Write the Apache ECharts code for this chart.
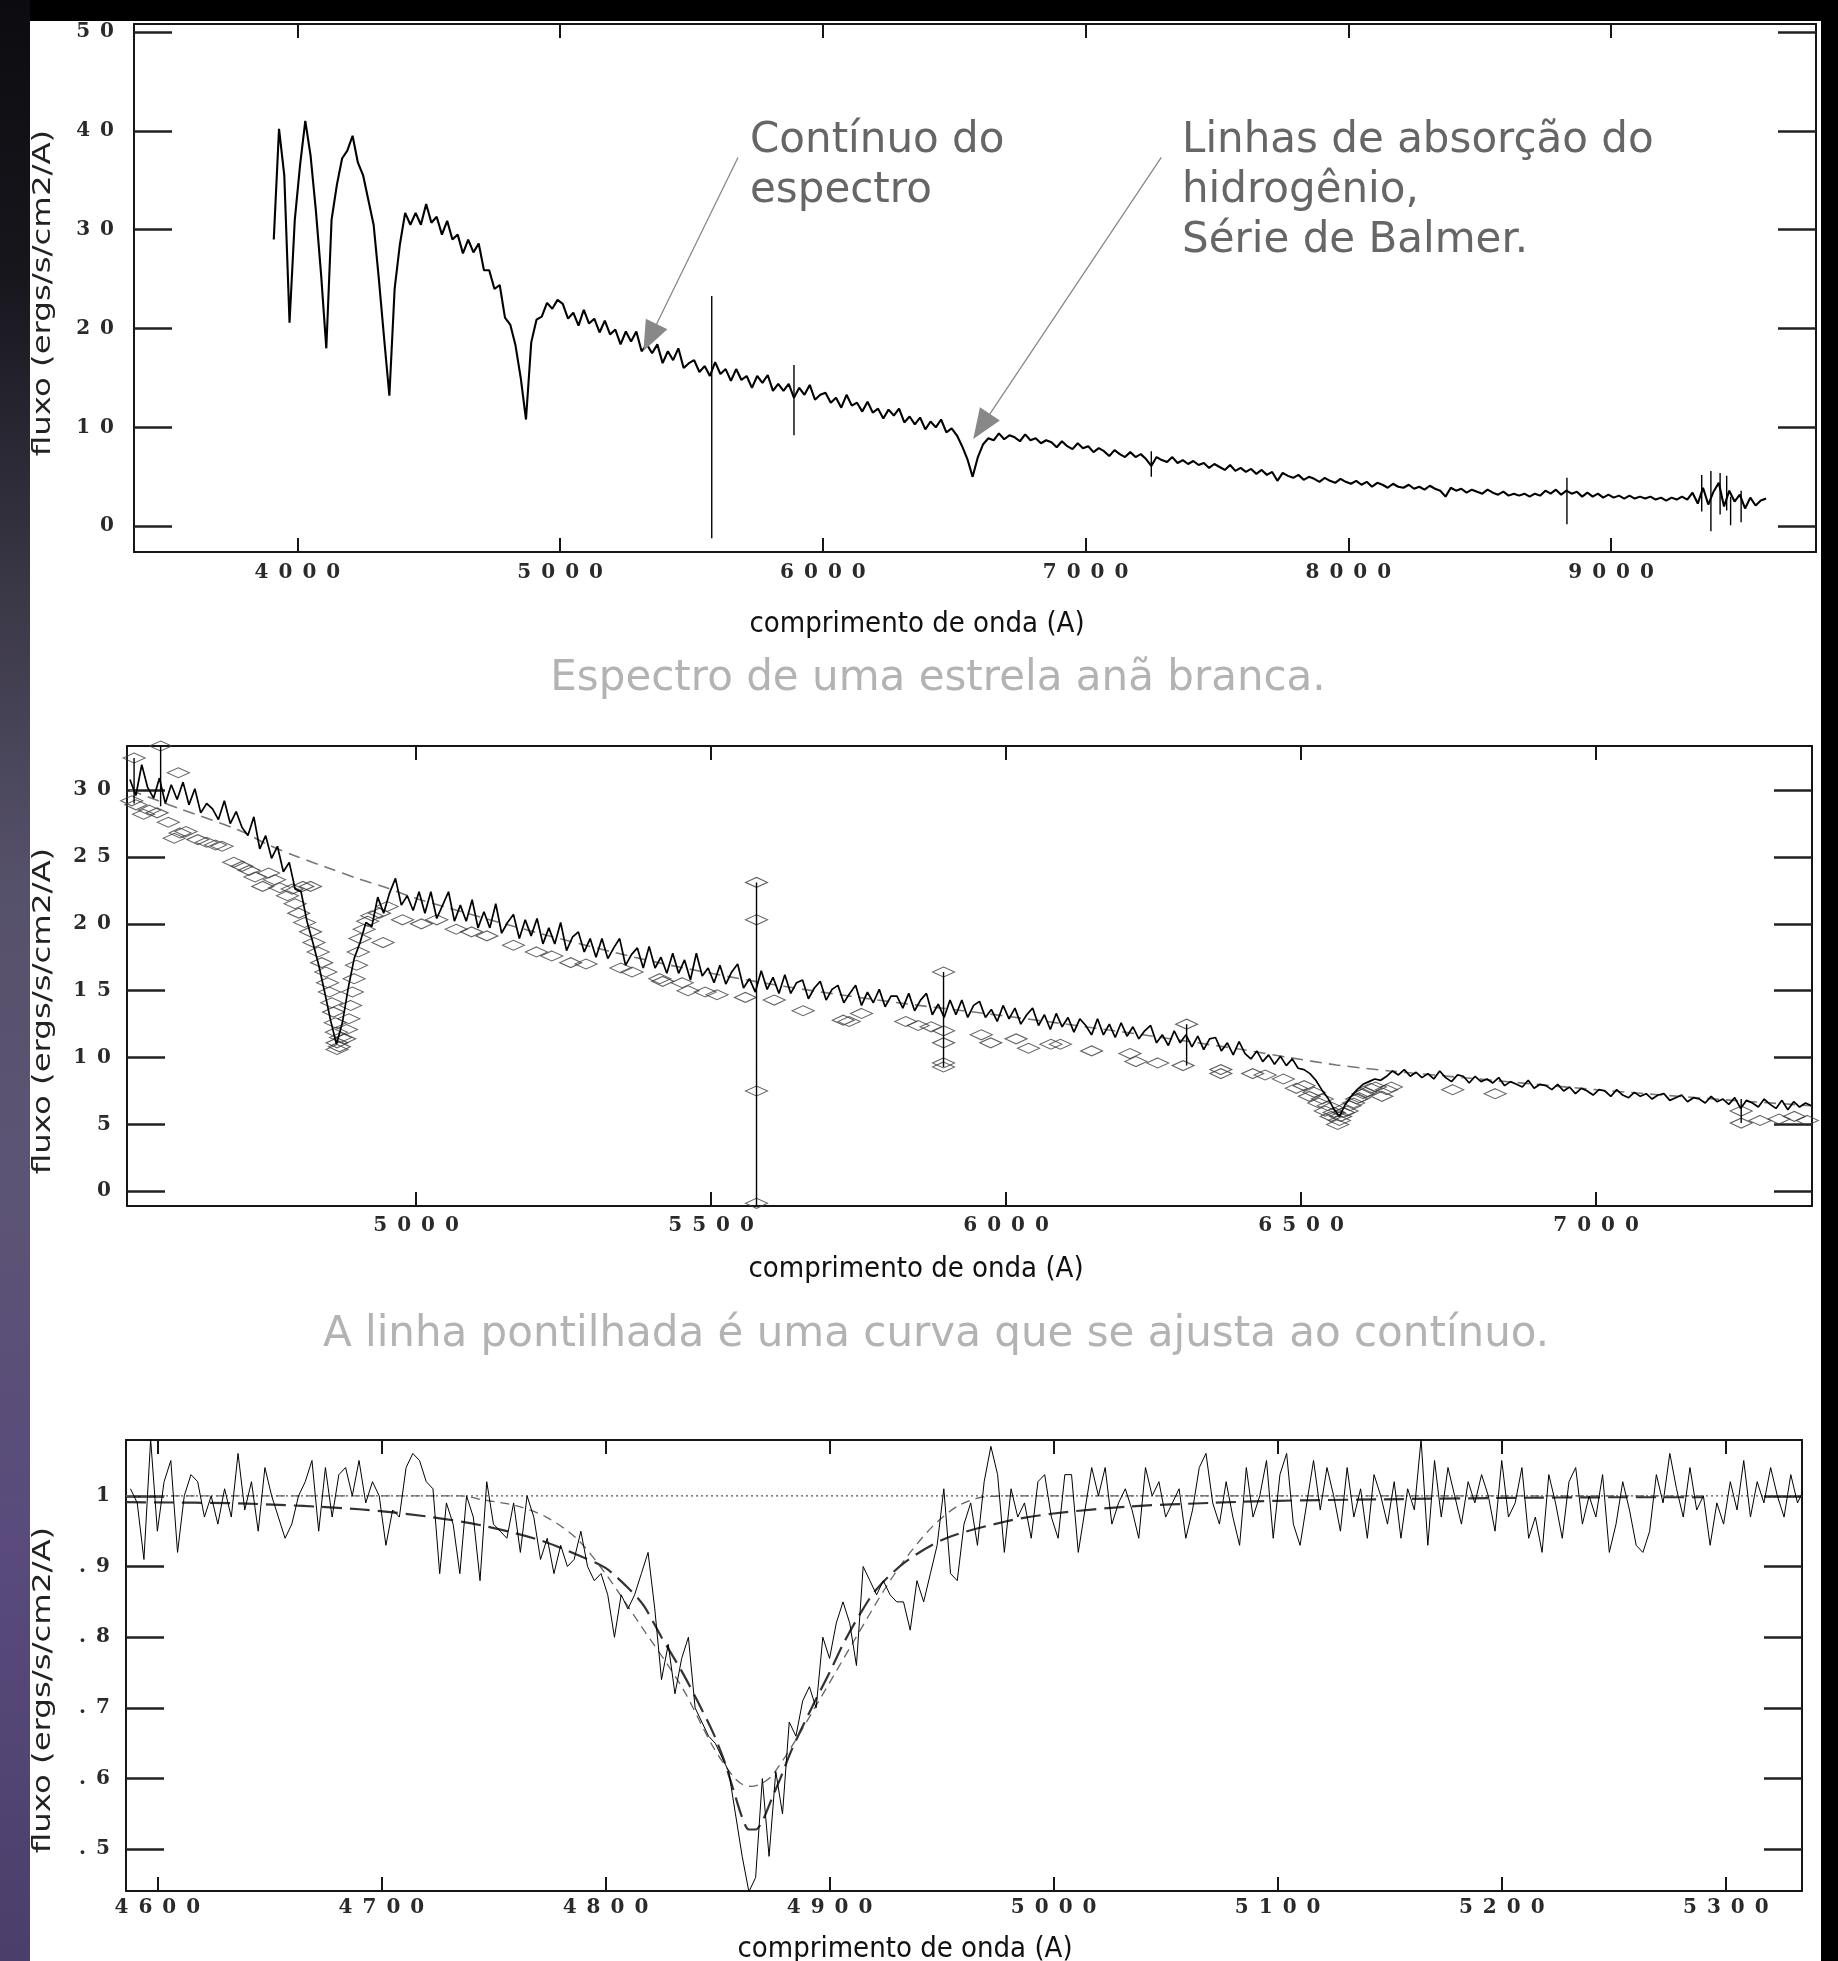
<!DOCTYPE html>
<html>
<head>
<meta charset="utf-8">
<title>Espectro de uma estrela anã branca</title>
<script src="https://cdn.jsdelivr.net/npm/echarts@6/dist/echarts.min.js"></script>
<style>
  html, body { margin: 0; padding: 0; background: #000; }
  #strip {
    position: absolute; left: 0; top: 0; width: 30px; height: 1961px;
    background: linear-gradient(180deg, #0c0c10 0%, #17161d 14%, #3a3746 30%, #56516a 45%, #5c5474 60%, #594a7c 80%, #4b3e6a 100%);
  }
  #paper { position: absolute; left: 30px; top: 21px; width: 1791px; height: 1940px; background: #fff; }
  #chart { position: absolute; left: 0; top: 0; width: 1838px; height: 1961px; }
</style>
</head>
<body>
<div id="strip"></div>
<div id="paper"></div>
<div id="chart"></div>
<script>
// ---- panel 1: full spectrum (sampled every 20 A from 3910 A)
const p1Start = 3910;
const p1Step = 20;
const p1Flux = [
  29.0, 40.2, 35.5, 20.6, 31.0, 36.5, 41.0, 37.5, 32.0, 25.5, 18.0, 31.0, 34.5, 37.2, 38.0, 39.5, 36.8, 35.5, 33.0, 30.5, 25.0, 19.0, 13.2, 24.0, 28.5,
  31.7, 30.5, 31.7, 30.5, 32.6, 30.7, 31.3, 29.5, 30.9, 29.0, 29.5, 27.6, 29.0, 27.7, 28.6, 25.9, 25.9, 24.0, 24.4, 21.1,
  20.4, 18.3, 15.0, 10.8, 18.6, 20.9, 21.2, 22.6, 22.0, 22.9,
  22.5, 21.0, 21.6, 20.3, 21.9, 20.5, 21.0, 19.6, 20.8, 19.4,
  19.9, 18.4, 19.7, 18.7, 19.7, 17.7, 18.4, 17.5, 18.4, 16.5,
  17.7, 16.8, 18.0, 16.0, 16.5, 16.8, 15.6, 16.2, 15.2, 16.6,
  15.4, 15.9, 14.7, 15.9, 14.8, 15.2, 14.0, 15.2, 14.5, 15.3,
  13.7, 14.4, 13.7, 14.4, 13.0, 14.0, 13.3, 14.3, 12.8, 13.3,
  13.5, 12.5, 13.0, 12.0, 13.3, 12.2, 12.5, 11.6, 12.6, 11.5,
  11.9, 10.9, 11.8, 11.2, 11.9, 10.5, 11.1, 10.3, 11.0, 9.8,
  10.6, 10.0, 10.8, 9.5, 9.9, 9.2, 8.1, 6.8, 5.0, 7.0,
  8.3, 8.9, 8.7, 9.4, 8.8, 9.2, 9.0, 8.6, 9.3, 8.7,
  8.9, 8.4, 8.7, 8.5, 8.0, 8.6, 8.1, 7.8, 8.4, 7.9,
  8.1, 7.5, 7.9, 7.6, 7.1, 7.7, 7.3, 7.0, 7.5, 7.0,
  7.3, 6.8, 6.1, 7.0, 6.7, 6.5, 7.0, 6.4, 6.7, 6.3,
  6.6, 6.2, 6.4, 5.9, 6.3, 6.0, 5.7, 6.2, 5.6, 5.9,
  5.5, 5.8, 5.3, 5.7, 5.2, 5.5, 4.6, 5.4, 5.1, 4.9,
  5.2, 4.7, 5.0, 4.8, 4.5, 4.9, 4.6, 4.4, 4.8, 4.5,
  4.3, 4.6, 4.2, 4.5, 4.0, 4.4, 4.2, 3.9, 4.3, 4.0,
  3.9, 4.2, 3.8, 4.0, 3.7, 4.1, 3.8, 3.6, 3.0, 3.9,
  3.6, 3.8, 3.4, 3.7, 3.5, 3.3, 3.7, 3.4, 3.2, 3.5,
  3.1, 3.3, 3.1, 3.3, 3.0, 3.3, 3.1, 3.6, 3.3, 3.7,
  3.2, 3.6, 3.3, 3.5, 3.0, 3.4, 3.0, 3.3, 2.9, 3.2,
  2.9, 3.1, 2.8, 3.1, 2.8, 3.0, 2.8, 3.0, 2.7, 2.9,
  2.6, 2.9, 2.7, 3.0, 2.7, 3.4, 2.3, 3.9, 2.2, 3.5,
  4.4, 2.0, 3.6, 2.5, 3.2, 1.8, 2.9, 2.1, 2.6, 2.8
];
// single-pixel spikes (sky lines, cosmic rays)
const p1SpikeWave = [5577, 5890, 7250, 8832, 9345, 9380, 9415, 9440, 9455, 9495];
const p1SpikeLow = [-1.2, 9.2, 5.0, 0.2, 1.5, -0.5, 1.2, 1.6, 0.1, 0.4];
const p1SpikeHigh = [23.3, 16.3, 7.6, 4.9, 5.2, 5.6, 5.4, 5.1, 3.0, 3.6];
const p1XTicks = [4000, 5000, 6000, 7000, 8000, 9000];
const p1YTicks = [0, 10, 20, 30, 40, 50];

// ---- panel 2: zoom with continuum points (sampled every 10 A from 4515 A)
const p2Start = 4515;
const p2Step = 10;
const p2Flux = [
  30.8, 29.6, 31.9, 30.2, 29.4, 30.9, 29.0, 30.4, 29.3, 30.6,
  28.9, 30.1, 28.3, 29.0, 28.6, 27.8, 29.2, 27.5, 28.4, 27.2,
  26.6, 28.0, 25.6, 26.6, 24.9, 25.8, 23.9, 24.6, 22.6, 22.4,
  20.2, 18.6, 16.9, 14.9, 12.8, 11.0, 12.6, 15.2, 17.4, 18.6,
  20.1, 19.8, 22.0, 20.8, 22.3, 23.4, 21.4, 22.1, 21.0, 22.4,
  20.8, 22.4, 20.4, 21.4, 22.4, 20.2, 21.4, 20.2, 21.8, 19.7,
  20.9, 19.7, 21.5, 19.3, 20.1, 20.7, 18.9, 20.3, 19.1, 20.4,
  18.5, 19.7, 18.5, 20.1, 18.0, 19.0, 19.4, 17.9, 18.9, 17.5,
  18.9, 17.4, 18.2, 18.9, 16.9, 17.7, 18.2, 16.7, 18.3, 16.7,
  17.5, 16.3, 17.8, 16.3, 17.3, 15.8, 17.8, 16.1, 16.7, 15.6,
  16.9, 15.5, 16.4, 17.0, 15.2, 15.9, 14.9, 16.5, 15.1, 16.0,
  14.8, 16.2, 14.8, 15.6, 15.8, 14.4, 15.2, 15.7, 14.3, 15.1,
  15.4, 14.1, 14.8, 15.4, 13.9, 14.9, 14.1, 15.1, 13.8, 14.6,
  14.6, 13.7, 14.8, 13.5, 14.3, 14.8, 13.2, 14.0, 13.0, 14.3,
  13.2, 14.3, 13.0, 13.9, 14.2, 13.0, 13.6, 12.7, 13.9, 12.9,
  13.7, 12.5, 13.2, 13.7, 12.4, 13.2, 12.1, 13.3, 12.3, 13.0,
  11.9, 12.9, 12.4, 11.7, 12.9, 11.7, 12.5, 11.5, 12.6, 11.6,
  12.3, 11.4, 12.0, 12.4, 11.1, 11.7, 10.9, 12.0, 11.1, 11.7,
  10.8, 11.6, 10.6, 11.4, 11.5, 10.5, 11.1, 10.2, 11.2, 10.3,
  9.9, 10.5, 9.7, 10.2, 9.5, 10.1, 9.4, 9.9, 9.2, 9.1,
  8.8, 8.3, 7.6, 7.0, 6.2, 5.6, 6.5, 7.1, 7.6, 8.0,
  8.2, 8.4, 8.3, 8.6, 9.0, 8.7, 9.1, 8.6, 8.9, 8.5,
  8.8, 8.4, 9.0, 8.5, 8.2, 8.7, 8.6, 8.1, 8.6, 8.2,
  8.4, 8.1, 8.5, 7.9, 8.2, 8.0, 7.8, 8.3, 7.7, 8.0,
  7.9, 7.6, 8.0, 7.5, 7.8, 7.3, 7.7, 7.5, 7.2, 7.6,
  7.5, 7.1, 7.6, 7.2, 7.0, 7.4, 7.1, 7.3, 6.9, 7.2,
  7.3, 6.8, 7.0, 7.2, 6.7, 7.0, 6.9, 6.6, 7.1, 6.7,
  6.9, 6.5, 7.0, 6.2, 6.8, 6.6, 6.3, 6.9, 6.5, 6.2,
  6.8, 6.1, 6.7, 6.3, 6.6, 6.4
];
const p2SpikeWave = [4522, 4567, 5577, 5894, 6306, 7246];
const p2SpikeLow = [29.0, 28.8, -1.1, 9.3, 9.4, 5.1];
const p2SpikeHigh = [32.4, 33.3, 23.1, 16.4, 12.5, 6.9];
// points chosen for the continuum fit (diamonds)
const p2DiaWave = [
  4518, 4522, 4525, 4538, 4548, 4561, 4567, 4580, 4590, 4597,
  4600, 4610, 4630, 4645, 4660, 4671, 4691, 4705, 4717, 4727,
  4740, 4750, 4760, 4769, 4782, 4790, 4795, 4801, 4808, 4811,
  4821, 4821, 4827, 4834, 4840, 4847, 4850, 4853, 4857, 4860,
  4863, 4865, 4866, 4866, 4870, 4872, 4879, 4882, 4886, 4889,
  4892, 4895, 4899, 4902, 4905, 4912, 4918, 4925, 4938, 4944,
  4951, 4977, 5009, 5035, 5068, 5094, 5120, 5165, 5204, 5230,
  5262, 5288, 5347, 5366, 5413, 5418, 5451, 5461, 5490, 5510,
  5558, 5577, 5577, 5577, 5577, 5607, 5656, 5724, 5734, 5755,
  5830, 5851, 5873, 5894, 5894, 5894, 5894, 5894, 5958, 5974,
  6017, 6038, 6076, 6092, 6145, 6210, 6220, 6257, 6300, 6306,
  6364, 6364, 6418, 6439, 6470, 6492, 6505, 6514, 6522, 6530,
  6536, 6541, 6546, 6551, 6556, 6562, 6565, 6567, 6572, 6578,
  6583, 6589, 6594, 6599, 6605, 6610, 6618, 6626, 6637, 6645,
  6653, 6757, 6829, 7246, 7246, 7278, 7310, 7336, 7358
];
const p2DiaFlux = [
  29.2, 32.4, 28.9, 28.2, 28.5, 28.3, 33.3, 27.6, 26.4, 31.3,
  26.8, 26.9, 26.3, 26.1, 25.9, 25.8, 24.6, 24.3, 24.0, 23.5,
  22.8, 23.8, 23.3, 22.7, 22.1, 22.6, 21.5, 20.8, 22.8, 20.1,
  22.8, 19.4, 18.6, 17.9, 17.1, 16.4, 15.6, 14.9, 14.1, 13.4,
  12.6, 11.9, 11.1, 10.6, 10.8, 11.5, 11.4, 12.1, 12.9, 13.9,
  14.9, 15.9, 16.9, 17.9, 18.9, 19.6, 20.2, 20.6, 20.8, 18.6,
  21.3, 20.3, 20.0, 20.3, 19.6, 19.4, 19.1, 18.4, 17.9, 17.6,
  17.1, 17.0, 16.7, 16.4, 15.9, 15.7, 15.6, 15.0, 14.9, 14.7,
  14.5, 23.1, 20.3, 7.5, -0.9, 14.3, 13.5, 12.8, 12.7, 13.3,
  12.7, 12.4, 12.3, 16.4, 12.0, 11.1, 9.6, 9.3, 11.7, 11.1,
  11.4, 10.7, 11.0, 11.0, 10.5, 10.3, 9.7, 9.6, 9.4, 12.5,
  8.8, 9.1, 8.8, 8.7, 8.4, 7.7, 7.9, 7.1, 7.4, 6.6,
  6.9, 6.0, 6.4, 5.6, 5.9, 5.0, 5.3, 5.6, 5.9, 6.0,
  6.4, 6.6, 6.9, 7.0, 7.3, 7.4, 7.7, 7.8, 7.1, 7.6,
  7.8, 7.6, 7.3, 6.0, 5.1, 5.3, 5.4, 5.6, 5.3
];
// fitted continuum (dashed)
const p2ContWave = [4515, 4600, 4700, 4750, 4800, 4850, 4900, 4950, 5000, 5200, 5400, 5600, 5800, 6000, 6200, 6400, 6480, 6560, 6650, 6800, 7000, 7200, 7365];
const p2ContFlux = [30.0, 28.6, 27.0, 25.9, 25.0, 24.2, 23.4, 22.7, 21.9, 19.4, 17.2, 15.5, 14.2, 13.1, 11.9, 10.6, 10.0, 9.45, 9.0, 8.4, 7.6, 6.9, 6.4];
const p2XTicks = [5000, 5500, 6000, 6500, 7000];
const p2YTicks = [0, 5, 10, 15, 20, 25, 30];

// ---- panel 3: normalised H-beta profile (sampled every 3 A from 4588 A)
const p3Start = 4588;
const p3Step = 3;
const p3Flux = [
  1.01, 0.99, 0.91, 1.08, 0.95, 1.02, 1.05, 0.92, 1.00, 1.03,
  1.02, 0.97, 1.00, 0.96, 1.01, 0.97, 1.06, 0.98, 1.02, 0.95,
  1.04, 1.00, 0.97, 0.94, 0.96, 1.00, 1.02, 1.05, 0.95, 1.04,
  0.97, 1.03, 1.04, 1.00, 1.05, 0.99, 1.02, 1.00, 0.93, 0.98,
  0.97, 1.04, 1.06, 1.05, 1.02, 1.01, 0.89, 0.99, 0.96, 0.89,
  1.00, 0.97, 0.88, 1.02, 0.96, 0.95, 0.94, 0.99, 0.92, 1.00,
  0.97, 0.91, 0.94, 0.89, 0.93, 0.90, 0.91, 0.95, 0.90, 0.88,
  0.89, 0.86, 0.80, 0.86, 0.84, 0.86, 0.89, 0.92, 0.84, 0.74,
  0.79, 0.72, 0.77, 0.80, 0.70, 0.68, 0.66, 0.65, 0.63, 0.61,
  0.55, 0.49, 0.44, 0.46, 0.60, 0.49, 0.61, 0.55, 0.68, 0.66,
  0.71, 0.73, 0.70, 0.80, 0.77, 0.82, 0.85, 0.82, 0.76, 0.90,
  0.88, 0.86, 0.88, 0.86, 0.85, 0.85, 0.81, 0.88, 0.85, 0.89,
  0.93, 1.01, 0.89, 0.88, 0.96, 0.99, 0.93, 1.02, 1.07, 1.03,
  0.92, 1.01, 0.97, 0.99, 0.94, 1.02, 1.03, 0.97, 0.94, 1.03,
  1.03, 0.92, 0.98, 1.04, 1.00, 1.04, 0.96, 0.99, 1.01, 0.98,
  0.94, 1.04, 1.00, 1.02, 0.97, 0.99, 1.01, 0.94, 0.98, 1.04,
  1.06, 0.99, 0.96, 1.02, 0.97, 0.93, 1.04, 0.97, 1.00, 1.05,
  0.94, 1.03, 1.06, 0.96, 0.93, 0.99, 1.05, 0.98, 1.04, 1.00,
  0.95, 1.04, 0.97, 1.01, 0.94, 1.03, 1.00, 0.96, 1.02, 0.94,
  1.01, 0.98, 1.08, 0.93, 1.05, 0.97, 1.04, 1.00, 0.96, 1.02,
  0.99, 1.03, 1.00, 0.95, 1.05, 0.97, 0.99, 1.04, 0.94, 0.97,
  0.92, 1.03, 0.99, 0.94, 1.02, 1.04, 0.96, 1.00, 0.97, 1.03,
  0.92, 0.96, 1.02, 0.98, 0.93, 0.92, 0.95, 1.03, 0.99, 1.06,
  1.01, 0.97, 1.04, 0.98, 1.00, 0.93, 0.99, 0.96, 1.02, 0.98,
  1.05, 0.97, 1.02, 0.99, 1.04, 1.00, 0.97, 1.03, 0.99, 1.01
];
const p3LevelWave = [4586, 5334];
const p3LevelFlux = [1, 1];
const p3NarrowWave = [4586, 4735, 4746, 4760, 4773, 4787, 4800, 4815, 4834, 4848, 4857, 4861, 4865, 4869, 4874, 4883, 4896, 4910, 4925, 4936, 4947, 4958, 4970, 4985, 5290];
const p3NarrowFlux = [1.0, 1.0, 0.994, 0.986, 0.971, 0.94, 0.89, 0.82, 0.73, 0.645, 0.603, 0.592, 0.589, 0.592, 0.603, 0.645, 0.714, 0.79, 0.87, 0.92, 0.96, 0.987, 0.999, 1.0, 1.0];
const p3WideWave = [4586, 4640, 4690, 4720, 4745, 4770, 4790, 4800, 4810, 4817, 4825, 4834, 4841, 4848, 4853, 4857, 4861, 4864, 4867, 4870, 4874, 4878, 4883, 4892, 4900, 4906, 4914, 4921, 4934, 4952, 4979, 5000, 5034, 5070, 5100, 5145, 5200, 5250, 5290];
const p3WideFlux = [0.991, 0.989, 0.981, 0.971, 0.958, 0.938, 0.913, 0.898, 0.87, 0.845, 0.80, 0.752, 0.71, 0.665, 0.625, 0.585, 0.545, 0.528, 0.528, 0.54, 0.57, 0.60, 0.64, 0.70, 0.75, 0.79, 0.835, 0.868, 0.907, 0.94, 0.964, 0.975, 0.985, 0.99, 0.993, 0.995, 0.997, 0.998, 0.998];
const p3XTicks = [4600, 4700, 4800, 4900, 5000, 5100, 5200, 5300];
const p3YTicks = [0.5, 0.6, 0.7, 0.8, 0.9, 1];

const INK = "#161616";
const TICK_FONT = "DejaVu Serif";

const sampled = (start, step, vals) => vals.map((v, i) => [start + i * step, v]);
const pairs = (xs, ys) => xs.map((x, i) => [x, ys[i]]);
const spikes = (xs, lo, hi) => {
  const out = [];
  xs.forEach((x, i) => out.push([x, lo[i]], [x, hi[i]], [x, "-"]));
  return out;
};
const spaced = (s) => String(s).split("").join("\u2002");

function xAxes(gi, min, max, ticks, margin) {
  const base = {
    type: "value", gridIndex: gi, min, max,
    axisLine: { show: true, onZero: false, lineStyle: { color: INK, width: 2 } },
    axisTick: { show: true, inside: true, length: 14, customValues: ticks, lineStyle: { color: INK, width: 2 } },
    splitLine: { show: false },
  };
  return [
    { ...base, position: "bottom",
      axisLabel: { show: true, customValues: ticks, margin, formatter: (v) => spaced(v),
        fontFamily: TICK_FONT, fontSize: 20, fontWeight: "bold", color: "#2a2a2a" } },
    { ...base, position: "top", axisLabel: { show: false } },
  ];
}

function yAxes(gi, min, max, ticks, margin, fmt) {
  const base = {
    type: "value", gridIndex: gi, min, max,
    axisLine: { show: true, onZero: false, lineStyle: { color: INK, width: 2 } },
    axisTick: { show: true, inside: true, length: 38, customValues: ticks, lineStyle: { color: "#222", width: 2.5 } },
    splitLine: { show: false },
  };
  return [
    { ...base, position: "left",
      axisLabel: { show: true, customValues: ticks, margin, formatter: fmt,
        fontFamily: TICK_FONT, fontSize: 20, fontWeight: "bold", color: "#2a2a2a" } },
    { ...base, position: "right", axisLabel: { show: false } },
  ];
}

const chart = echarts.init(document.getElementById("chart"), null, { renderer: "canvas" });

const labelText = (text, x, y, size, color, family) => ({
  type: "text", x, y, silent: true,
  style: { text, fontSize: size, fontFamily: family || "DejaVu Sans", fill: color,
    textAlign: "center", textVerticalAlign: "middle", align: "center", verticalAlign: "middle" },
});
const yName = (y) => ({
  type: "text", x: 44, y, rotation: Math.PI / 2, scaleX: 1.35, silent: true,
  style: { text: "fluxo (ergs/s/cm2/A)", fontSize: 24, fontFamily: "DejaVu Sans", fill: "#222",
    textAlign: "center", textVerticalAlign: "middle", align: "center", verticalAlign: "middle" },
});
const note = (text, x, y) => ({
  type: "text", x, y, silent: true,
  style: { text, fontSize: 42, lineHeight: 50, fontFamily: "DejaVu Sans", fill: "#666",
    textAlign: "left", textVerticalAlign: "top", align: "left", verticalAlign: "top" },
});

chart.setOption({
  animation: false,
  backgroundColor: "transparent",
  grid: [
    { left: 134, top: 24, width: 1682, height: 528 },
    { left: 127, top: 746, width: 1685, height: 460 },
    { left: 126, top: 1440, width: 1676, height: 451 },
  ],
  xAxis: [
    ...xAxes(0, 3378, 9780, p1XTicks, 11),
    ...xAxes(1, 4510, 7366, p2XTicks, 10),
    ...xAxes(2, 4586, 5334, p3XTicks, 7),
  ],
  yAxis: [
    ...yAxes(0, -2.6, 50.8, p1YTicks, 20, (v) => spaced(v)),
    ...yAxes(1, -1.1, 33.3, p2YTicks, 16, (v) => spaced(v)),
    ...yAxes(2, 0.441, 1.079, p3YTicks, 16, (v) => spaced(v >= 0.999 ? "1" : "." + Math.round(v * 10))),
  ],
  graphic: [
    labelText("comprimento de onda (A)", 917, 624, 29, "#111", "DejaVu Sans Condensed"),
    labelText("comprimento de onda (A)", 916, 1269, 29, "#111", "DejaVu Sans Condensed"),
    labelText("comprimento de onda (A)", 905, 1949, 29, "#111", "DejaVu Sans Condensed"),
    labelText("Espectro de uma estrela anã branca.", 938, 679, 42, "#b3b3b3"),
    labelText("A linha pontilhada é uma curva que se ajusta ao contínuo.", 936, 1335, 42, "#b3b3b3"),
    yName(293), yName(1011), yName(1690),
    note("Contínuo do\nespectro", 750, 116),
    note("Linhas de absorção do\nhidrogênio,\nSérie de Balmer.", 1182, 116),
  ],
  series: [
    {
      name: "espectro", type: "line", xAxisIndex: 0, yAxisIndex: 0,
      data: sampled(p1Start, p1Step, p1Flux), showSymbol: false, symbol: "none",
      lineStyle: { color: "#000", width: 2.1 }, z: 3,
      markLine: {
        silent: true, symbol: ["none", "triangle"], symbolSize: [24, 30],
        label: { show: false }, animation: false,
        lineStyle: { color: "#888", width: 1.3, type: "solid" },
        itemStyle: { color: "#888" },
        data: [
          [{ coord: [5677, 37.3] }, { coord: [5342, 19.1] }],
          [{ coord: [7288, 37.3] }, { coord: [6604, 10.1] }],
        ],
      },
    },
    {
      name: "picos", type: "line", xAxisIndex: 0, yAxisIndex: 0,
      data: spikes(p1SpikeWave, p1SpikeLow, p1SpikeHigh), showSymbol: false, symbol: "none",
      connectNulls: false, lineStyle: { color: "#000", width: 1.4 }, z: 3,
    },
    {
      name: "contínuo", type: "line", xAxisIndex: 2, yAxisIndex: 2,
      data: pairs(p2ContWave, p2ContFlux), showSymbol: false, symbol: "none", smooth: 0.3,
      lineStyle: { color: "#777", width: 1.6, type: [12, 7] }, z: 1,
    },
    {
      name: "pontos", type: "scatter", xAxisIndex: 2, yAxisIndex: 2,
      data: pairs(p2DiaWave, p2DiaFlux), symbol: "diamond", symbolSize: [22, 10],
      itemStyle: { color: "rgba(255,255,255,0)", borderColor: "#3a3a3a", borderWidth: 1.2 }, z: 2,
    },
    {
      name: "espectro2", type: "line", xAxisIndex: 2, yAxisIndex: 2,
      data: sampled(p2Start, p2Step, p2Flux), showSymbol: false, symbol: "none",
      lineStyle: { color: "#000", width: 1.7 }, z: 3,
    },
    {
      name: "picos2", type: "line", xAxisIndex: 2, yAxisIndex: 2,
      data: spikes(p2SpikeWave, p2SpikeLow, p2SpikeHigh), showSymbol: false, symbol: "none",
      connectNulls: false, lineStyle: { color: "#000", width: 1.4 }, z: 3,
    },
    {
      name: "nível", type: "line", xAxisIndex: 4, yAxisIndex: 4,
      data: pairs(p3LevelWave, p3LevelFlux), showSymbol: false, symbol: "none",
      lineStyle: { color: "#555", width: 1.2, type: [2, 3] }, z: 1,
    },
    {
      name: "ajuste estreito", type: "line", xAxisIndex: 4, yAxisIndex: 4,
      data: pairs(p3NarrowWave, p3NarrowFlux), showSymbol: false, symbol: "none", smooth: 0.3,
      lineStyle: { color: "#666", width: 1.3, type: [9, 6] }, z: 2,
    },
    {
      name: "ajuste largo", type: "line", xAxisIndex: 4, yAxisIndex: 4,
      data: pairs(p3WideWave, p3WideFlux), showSymbol: false, symbol: "none", smooth: 0.3,
      lineStyle: { color: "#333", width: 2.2, type: [20, 8] }, z: 2,
    },
    {
      name: "perfil", type: "line", xAxisIndex: 4, yAxisIndex: 4,
      data: sampled(p3Start, p3Step, p3Flux), showSymbol: false, symbol: "none",
      lineStyle: { color: "#000", width: 1 }, z: 3,
    },
  ],
});
</script>
</body>
</html>
